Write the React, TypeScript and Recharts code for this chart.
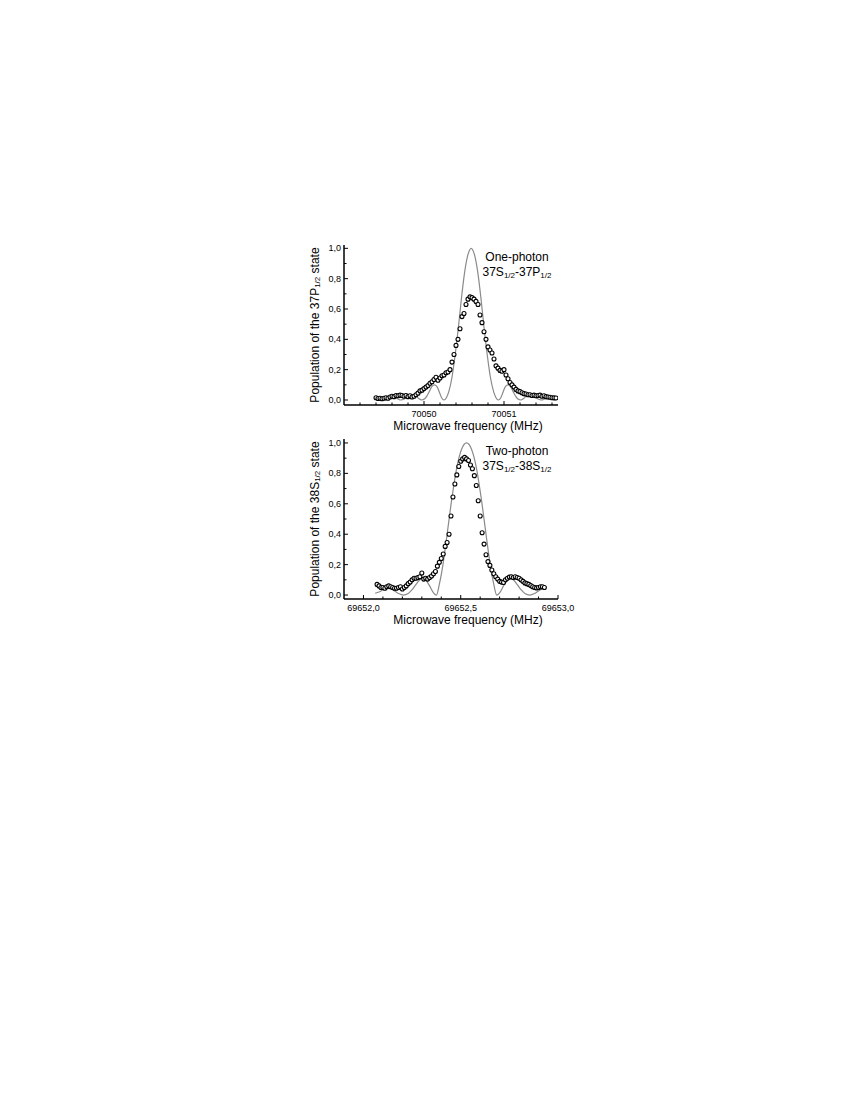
import { ComposedChart, Line, Scatter, XAxis, YAxis } from 'recharts';

// one-photon 37S1/2-37P1/2, measured population vs frequency (MHz)
const onePhotonMeasured: [number, number][] = [
  [70049.4, 0.015], [70049.425, 0.01], [70049.45, 0.012], [70049.475, 0.008], [70049.5, 0.012],
  [70049.525, 0.015], [70049.55, 0.012], [70049.575, 0.02], [70049.6, 0.025], [70049.625, 0.022],
  [70049.65, 0.03], [70049.675, 0.028], [70049.7, 0.032], [70049.725, 0.03], [70049.75, 0.025],
  [70049.775, 0.03], [70049.8, 0.022], [70049.825, 0.028], [70049.85, 0.02], [70049.875, 0.025],
  [70049.9, 0.035], [70049.925, 0.045], [70049.95, 0.06], [70049.975, 0.065], [70050.0, 0.075],
  [70050.025, 0.085], [70050.05, 0.095], [70050.075, 0.11], [70050.1, 0.12], [70050.125, 0.135],
  [70050.15, 0.15], [70050.175, 0.13], [70050.2, 0.145], [70050.225, 0.16], [70050.25, 0.165],
  [70050.275, 0.18], [70050.3, 0.185], [70050.325, 0.2], [70050.35, 0.25], [70050.375, 0.3],
  [70050.4, 0.36], [70050.425, 0.4], [70050.45, 0.47], [70050.475, 0.55], [70050.5, 0.57],
  [70050.525, 0.63], [70050.55, 0.665], [70050.575, 0.68], [70050.6, 0.675], [70050.625, 0.665],
  [70050.65, 0.65], [70050.675, 0.63], [70050.7, 0.56], [70050.725, 0.51], [70050.75, 0.45],
  [70050.775, 0.4], [70050.8, 0.35], [70050.825, 0.33], [70050.85, 0.31], [70050.875, 0.27],
  [70050.9, 0.225], [70050.925, 0.21], [70050.95, 0.195], [70050.975, 0.19], [70051.0, 0.2],
  [70051.025, 0.165], [70051.05, 0.14], [70051.075, 0.115], [70051.1, 0.1], [70051.125, 0.085],
  [70051.15, 0.07], [70051.175, 0.06], [70051.2, 0.055], [70051.225, 0.048], [70051.25, 0.042],
  [70051.275, 0.04], [70051.3, 0.035], [70051.325, 0.035], [70051.35, 0.03], [70051.375, 0.032],
  [70051.4, 0.028], [70051.425, 0.03], [70051.45, 0.032], [70051.475, 0.025], [70051.5, 0.028],
  [70051.525, 0.022], [70051.55, 0.02], [70051.575, 0.018], [70051.6, 0.015], [70051.625, 0.014],
  [70051.65, 0.013],
];

// one-photon theory curve (grey)
const onePhotonTheory: [number, number][] = [
  [70049.4, 0.008], [70049.46, 0.0], [70049.51, 0.006], [70049.55, 0.015], [70049.59, 0.02],
  [70049.63, 0.018], [70049.67, 0.008], [70049.71, 0.0], [70049.73, 0.002], [70049.77, 0.012],
  [70049.81, 0.028], [70049.85, 0.036], [70049.89, 0.03], [70049.93, 0.012], [70049.97, 0.0],
  [70050.01, 0.008], [70050.04, 0.03], [70050.07, 0.06], [70050.1, 0.09], [70050.13, 0.1],
  [70050.16, 0.09], [70050.19, 0.055], [70050.22, 0.015], [70050.25, 0.0], [70050.28, 0.015],
  [70050.31, 0.055], [70050.35, 0.15], [70050.39, 0.3], [70050.43, 0.48], [70050.47, 0.68],
  [70050.51, 0.85], [70050.55, 0.96], [70050.59, 1.0], [70050.63, 0.96], [70050.67, 0.85],
  [70050.71, 0.68], [70050.75, 0.48], [70050.79, 0.3], [70050.83, 0.15], [70050.87, 0.055],
  [70050.9, 0.015], [70050.93, 0.0], [70050.96, 0.015], [70050.99, 0.055], [70051.02, 0.09],
  [70051.05, 0.1], [70051.08, 0.09], [70051.11, 0.06], [70051.14, 0.03], [70051.17, 0.008],
  [70051.21, 0.0], [70051.25, 0.012], [70051.29, 0.03], [70051.33, 0.036], [70051.37, 0.028],
  [70051.41, 0.012], [70051.45, 0.002], [70051.47, 0.0], [70051.51, 0.008], [70051.55, 0.018],
  [70051.59, 0.02], [70051.63, 0.015], [70051.67, 0.005],
];

// two-photon 37S1/2-38S1/2, measured
const twoPhotonMeasured: [number, number][] = [
  [69652.07, 0.07], [69652.08, 0.06], [69652.09, 0.05], [69652.1, 0.05], [69652.11, 0.045],
  [69652.12, 0.055], [69652.13, 0.06], [69652.14, 0.055], [69652.15, 0.05], [69652.16, 0.045],
  [69652.17, 0.045], [69652.18, 0.05], [69652.19, 0.055], [69652.2, 0.04], [69652.21, 0.05],
  [69652.22, 0.06], [69652.23, 0.075], [69652.24, 0.085], [69652.25, 0.1], [69652.26, 0.11],
  [69652.27, 0.11], [69652.28, 0.115], [69652.29, 0.12], [69652.3, 0.145], [69652.31, 0.105],
  [69652.32, 0.11], [69652.33, 0.105], [69652.34, 0.115], [69652.35, 0.125], [69652.36, 0.14],
  [69652.37, 0.155], [69652.38, 0.19], [69652.39, 0.215], [69652.4, 0.24], [69652.41, 0.27],
  [69652.42, 0.32], [69652.43, 0.345], [69652.44, 0.4], [69652.45, 0.52], [69652.46, 0.645],
  [69652.47, 0.73], [69652.48, 0.79], [69652.49, 0.845], [69652.5, 0.88], [69652.51, 0.895],
  [69652.52, 0.905], [69652.53, 0.895], [69652.54, 0.885], [69652.55, 0.855], [69652.56, 0.83],
  [69652.57, 0.785], [69652.58, 0.72], [69652.59, 0.62], [69652.6, 0.52], [69652.61, 0.41],
  [69652.62, 0.335], [69652.63, 0.265], [69652.64, 0.22], [69652.65, 0.195], [69652.66, 0.165],
  [69652.67, 0.14], [69652.68, 0.12], [69652.69, 0.105], [69652.7, 0.09], [69652.71, 0.085],
  [69652.72, 0.082], [69652.73, 0.1], [69652.74, 0.11], [69652.75, 0.118], [69652.76, 0.12],
  [69652.77, 0.115], [69652.78, 0.12], [69652.79, 0.115], [69652.8, 0.11], [69652.81, 0.1],
  [69652.82, 0.09], [69652.83, 0.08], [69652.84, 0.075], [69652.85, 0.07], [69652.86, 0.062],
  [69652.87, 0.055], [69652.88, 0.05], [69652.89, 0.047], [69652.9, 0.05], [69652.91, 0.055],
  [69652.92, 0.055], [69652.93, 0.05],
];

// two-photon theory curve (grey)
const twoPhotonTheory: [number, number][] = [
  [69652.06, 0.012], [69652.08, 0.02], [69652.11, 0.04], [69652.13, 0.045], [69652.15, 0.035],
  [69652.18, 0.01], [69652.205, 0.0], [69652.23, 0.01], [69652.25, 0.035], [69652.27, 0.07],
  [69652.29, 0.1], [69652.305, 0.11], [69652.32, 0.1], [69652.34, 0.06], [69652.36, 0.015],
  [69652.375, 0.0], [69652.39, 0.07], [69652.405, 0.17], [69652.43, 0.4], [69652.455, 0.64],
  [69652.48, 0.84], [69652.505, 0.96], [69652.53, 1.0], [69652.555, 0.96], [69652.58, 0.84],
  [69652.605, 0.64], [69652.63, 0.4], [69652.655, 0.17], [69652.67, 0.07], [69652.685, 0.0],
  [69652.7, 0.015], [69652.72, 0.06], [69652.74, 0.1], [69652.755, 0.11], [69652.77, 0.1],
  [69652.79, 0.07], [69652.81, 0.035], [69652.83, 0.01], [69652.855, 0.0], [69652.88, 0.01],
  [69652.91, 0.035], [69652.93, 0.045],
];

const yTicks = [0, 0.1, 0.2, 0.3, 0.4, 0.5, 0.6, 0.7, 0.8, 0.9, 1.0];
const yMajor = [0, 0.2, 0.4, 0.6, 0.8, 1.0];

const oneTicks = [70049.2, 70049.4, 70049.6, 70049.8, 70050, 70050.2, 70050.4, 70050.6, 70050.8, 70051, 70051.2, 70051.4, 70051.6];
const oneMajor = [70050, 70051];

const twoTicks = [69652.0, 69652.1, 69652.2, 69652.3, 69652.4, 69652.5, 69652.6, 69652.7, 69652.8, 69652.9, 69653.0];
const twoMajor = [69652.0, 69652.5, 69653.0];

const FONT = '"Liberation Sans", Arial, sans-serif';

const toPts = (arr: [number, number][]) => arr.map(([f, v]) => ({ f, v }));
const isMajor = (list: number[], v: number) => list.some(m => Math.abs(m - v) < 1e-6);

function makeTick(side: 'bottom' | 'top' | 'left' | 'right', majors: number[], fmt?: (v: number) => string) {
  return (p: any) => {
    const { x, y, payload } = p;
    const major = isMajor(majors, payload.value);
    const len = major ? 4 : 2.5;
    let line;
    if (side === 'bottom') line = <line x1={x} x2={x} y1={y} y2={y - len} stroke="#000" />;
    else if (side === 'top') line = <line x1={x} x2={x} y1={y} y2={y + len} stroke="#000" />;
    else if (side === 'left') line = <line x1={x} x2={x + len} y1={y} y2={y} stroke="#000" />;
    else line = <line x1={x} x2={x - len} y1={y} y2={y} stroke="#000" />;
    let label = null;
    if (major && fmt && side === 'bottom') {
      label = (
        <text x={x} y={y + 12} textAnchor="middle" fontSize={9} fontFamily={FONT} fill="#000">
          {fmt(payload.value)}
        </text>
      );
    }
    if (major && fmt && side === 'left') {
      label = (
        <text x={x - 3} y={y + 3} textAnchor="end" fontSize={9} fontFamily={FONT} fill="#000">
          {fmt(payload.value)}
        </text>
      );
    }
    return <g>{line}{label}</g>;
  };
}

const comma1 = (v: number) => v.toFixed(1).replace('.', ',');
const commaInt = (v: number) => String(Math.round(v));

type PanelProps = {
  top: number;
  measured: [number, number][];
  theory: [number, number][];
  xDomain: [number, number];
  yDomain: [number, number];
  xTicks: number[];
  xMajor: number[];
  xFmt: (v: number) => string;
  level: string;
  title: string;
  upper: string;
  marginTop: number;
};

function Panel(props: PanelProps) {
  const { measured, theory, xDomain, yDomain, xTicks, xMajor, xFmt } = props;
  const plotH = 160;
  const mid = props.marginTop + plotH / 2;
  return (
    <div style={{ position: 'absolute', left: 284, top: props.top }}>
      <ComposedChart
        width={310}
        height={210}
        margin={{ top: props.marginTop, right: 36, left: 15, bottom: 210 - props.marginTop - plotH - 30 }}
      >
        <XAxis
          xAxisId={0}
          type="number"
          dataKey="f"
          domain={xDomain}
          allowDataOverflow
          ticks={xTicks}
          interval={0}
          height={30}
          tickSize={0}
          tickMargin={0}
          tickLine={false}
          axisLine={{ stroke: '#000', strokeWidth: 1.5 }}
          tick={makeTick('bottom', xMajor, xFmt)}
        />
        <XAxis
          xAxisId="top"
          orientation="top"
          type="number"
          domain={xDomain}
          allowDataOverflow
          ticks={xTicks}
          interval={0}
          height={0}
          tickSize={0}
          tickMargin={0}
          tickLine={false}
          axisLine={{ stroke: '#000', strokeWidth: 1.5 }}
          tick={makeTick('top', xMajor)}
        />
        <YAxis
          yAxisId={0}
          type="number"
          dataKey="v"
          domain={yDomain}
          allowDataOverflow
          ticks={yTicks}
          interval={0}
          width={45}
          tickSize={0}
          tickMargin={0}
          tickLine={false}
          axisLine={{ stroke: '#000', strokeWidth: 1.5 }}
          tick={makeTick('left', yMajor, comma1)}
        />
        <YAxis
          yAxisId="right"
          orientation="right"
          type="number"
          domain={yDomain}
          allowDataOverflow
          ticks={yTicks}
          interval={0}
          width={0}
          tickSize={0}
          tickMargin={0}
          tickLine={false}
          axisLine={{ stroke: '#000', strokeWidth: 1.5 }}
          tick={makeTick('right', yMajor)}
        />
        <Line
          data={toPts(theory)}
          dataKey="v"
          type="monotone"
          stroke="#8a8a8a"
          strokeWidth={1.2}
          dot={false}
          isAnimationActive={false}
        />
        <Scatter
          data={toPts(measured)}
          dataKey="v"
          isAnimationActive={false}
          shape={(p: any) => (
            <circle cx={p.cx} cy={p.cy} r={2.0} fill="#fff" stroke="#000" strokeWidth={1.1} />
          )}
        />
        <text x={31} y={mid} transform={`rotate(-90 31 ${mid})`}
          textAnchor="middle" dominantBaseline="central" fontSize={12} fontFamily={FONT} fill="#000">
          Population of the {props.level}
          <tspan fontSize={8} dy={2}>1/2</tspan>
          <tspan dy={-2}> state</tspan>
        </text>
        <text x={184} y={props.marginTop + plotH + 25} textAnchor="middle" fontSize={12} fontFamily={FONT} fill="#000">
          Microwave frequency (MHz)
        </text>
        <text x={233} y={props.marginTop + 16} textAnchor="middle" fontSize={12} fontFamily={FONT} fill="#000">
          {props.title}
        </text>
        <text x={233} y={props.marginTop + 31} textAnchor="middle" fontSize={12} fontFamily={FONT} fill="#000">
          37S<tspan fontSize={8} dy={2}>1/2</tspan>
          <tspan dy={-2}>-{props.upper}</tspan>
          <tspan fontSize={8} dy={2}>1/2</tspan>
        </text>
      </ComposedChart>
    </div>
  );
}

export default function App() {
  return (
    <div style={{ position: 'absolute', left: 0, top: 0, width: 850, height: 1100, background: '#fff' }}>
      <Panel
        top={230}
        marginTop={15}
        measured={onePhotonMeasured}
        theory={onePhotonTheory}
        xDomain={[70049.0, 70051.675]}
        yDomain={[-0.033, 1.022]}
        xTicks={oneTicks}
        xMajor={oneMajor}
        xFmt={commaInt}
        level="37P"
        title="One-photon"
        upper="37P"
      />
      <Panel
        top={425}
        marginTop={14}
        measured={twoPhotonMeasured}
        theory={twoPhotonTheory}
        xDomain={[69651.9, 69653.0]}
        yDomain={[-0.026, 1.026]}
        xTicks={twoTicks}
        xMajor={twoMajor}
        xFmt={comma1}
        level="38S"
        title="Two-photon"
        upper="38S"
      />
    </div>
  );
}
